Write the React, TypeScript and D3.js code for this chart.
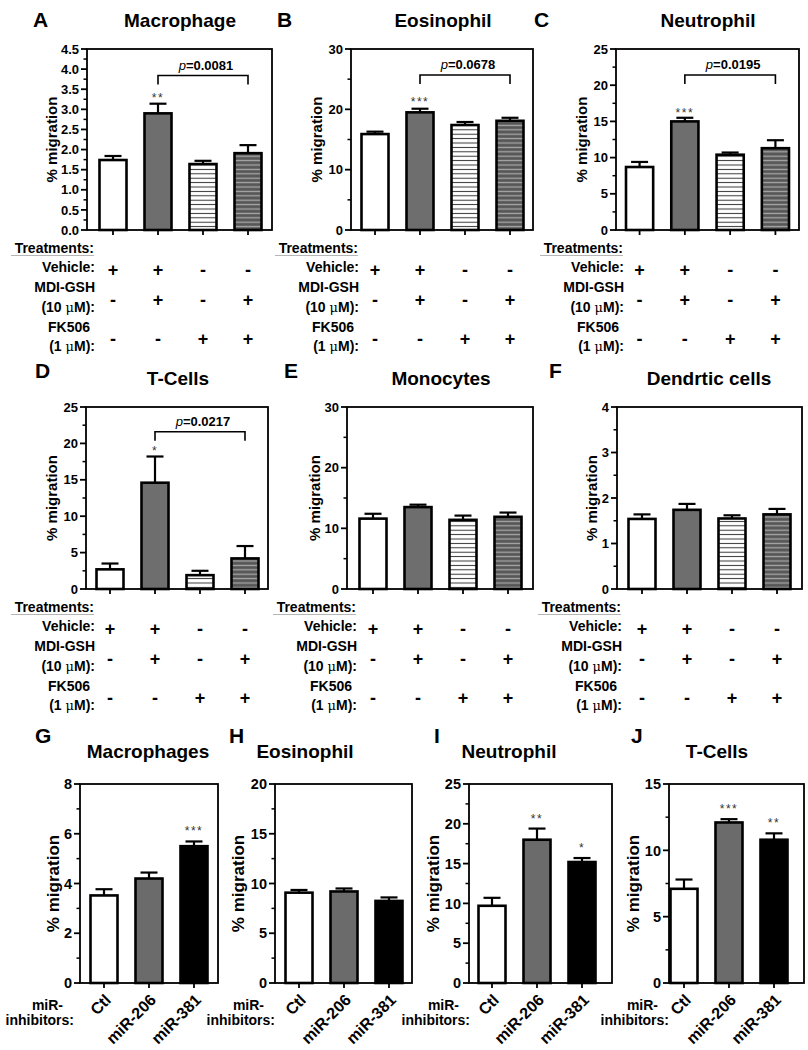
import React from 'react';
import * as d3 from 'd3';

const FONT = '"Liberation Sans", Arial, Helvetica, sans-serif';

// ---------- data ----------
const vehicleSigns = ['+', '+', '-', '-'];
const mdiSigns = ['-', '+', '-', '+'];
const fkSigns = ['-', '-', '+', '+'];
const mirCategories = ['Ctl', 'miR-206', 'miR-381'];

const macroTicks = [0, 0.5, 1, 1.5, 2, 2.5, 3, 3.5, 4, 4.5];
const eosTicks = [0, 10, 20, 30];
const neuTicks = [0, 5, 10, 15, 20, 25];
const tcellTicks = [0, 5, 10, 15, 20, 25];
const monoTicks = [0, 10, 20, 30];
const dcTicks = [0, 1, 2, 3, 4];
const mirMacroTicks = [0, 2, 4, 6, 8];
const mirEosTicks = [0, 5, 10, 15, 20];
const mirNeuTicks = [0, 5, 10, 15, 20, 25];
const mirTcellTicks = [0, 5, 10, 15];

const macroMeans = [1.74, 2.9, 1.64, 1.91];
const macroErr = [0.1, 0.24, 0.08, 0.2];
const eosMeans = [15.9, 19.5, 17.4, 18.1];
const eosErr = [0.4, 0.6, 0.5, 0.5];
const neuMeans = [8.7, 15.0, 10.4, 11.3];
const neuErr = [0.7, 0.5, 0.3, 1.1];
const tcellMeans = [2.7, 14.6, 1.9, 4.2];
const tcellErr = [0.8, 3.6, 0.6, 1.7];
const monoMeans = [11.6, 13.5, 11.4, 11.9];
const monoErr = [0.8, 0.4, 0.7, 0.7];
const dcMeans = [1.54, 1.74, 1.55, 1.64];
const dcErr = [0.1, 0.13, 0.07, 0.12];
const mirMacroMeans = [3.52, 4.2, 5.5];
const mirMacroErr = [0.25, 0.24, 0.19];
const mirEosMeans = [9.08, 9.2, 8.25];
const mirEosErr = [0.27, 0.3, 0.35];
const mirNeuMeans = [9.7, 18.0, 15.2];
const mirNeuErr = [1.0, 1.4, 0.5];
const mirTcellMeans = [7.1, 12.1, 10.8];
const mirTcellErr = [0.7, 0.25, 0.48];

const macroStars = ['', '**', '', ''];
const eosStars = ['', '***', '', ''];
const neuStars = ['', '***', '', ''];
const tcellStars = ['', '*', '', ''];
const noStars4 = ['', '', '', ''];
const mirMacroStars = ['', '', '***'];
const mirEosStars = ['', '', ''];
const mirNeuStars = ['', '**', '*'];
const mirTcellStars = ['', '***', '**'];

const pMacro = '0.0081';
const pEos = '0.0678';
const pNeu = '0.0195';
const pTcell = '0.0217';

// ---------- styles ----------
const treatFills = ['#ffffff', '#6e6e6e', 'url(#hatchLight)', 'url(#hatchDark)'];
const mirFills = ['#ffffff', '#6b6b6b', '#000000'];
const BW = 27;
const PAD = 0.4;

type P = {
  letter: string; title: string; kind: 'treat' | 'mir';
  means: number[]; errs: number[]; ticks: number[]; decimals: boolean;
  stars: string[]; fills: string[];
  bracket?: { value: number; p: string };
  x0: number; x1: number; c0: number; c1: number; yRange: [number, number];
  yLabelX: number; yLabelSize: number; tickSize: number; starGap: number;
  titleX: number; titleY: number; letterX: number; letterY: number;
  labelRight: number;
};

const R1: [number, number] = [230, 49];
const R2: [number, number] = [589, 407];
const R3: [number, number] = [983, 784];

const panels: P[] = [
  { letter: 'A', title: 'Macrophage', kind: 'treat', means: macroMeans, errs: macroErr, ticks: macroTicks, decimals: true,
    stars: macroStars, fills: treatFills, bracket: { value: 3.84, p: pMacro },
    x0: 87, x1: 272, c0: 113, c1: 248, yRange: R1, yLabelX: 52, yLabelSize: 15, tickSize: 13, starGap: 7.5,
    titleX: 180, titleY: 27, letterX: 33, letterY: 27, labelRight: 95 },
  { letter: 'B', title: 'Eosinophil', kind: 'treat', means: eosMeans, errs: eosErr, ticks: eosTicks, decimals: false,
    stars: eosStars, fills: treatFills, bracket: { value: 25.7, p: pEos },
    x0: 351, x1: 533, c0: 375, c1: 510, yRange: R1, yLabelX: 317, yLabelSize: 15, tickSize: 13, starGap: 8.5,
    titleX: 443, titleY: 27, letterX: 277, letterY: 27, labelRight: 359 },
  { letter: 'C', title: 'Neutrophil', kind: 'treat', means: neuMeans, errs: neuErr, ticks: neuTicks, decimals: false,
    stars: neuStars, fills: treatFills, bracket: { value: 21.4, p: pNeu },
    x0: 616, x1: 799, c0: 639.5, c1: 775.5, yRange: R1, yLabelX: 582, yLabelSize: 15, tickSize: 13, starGap: 7,
    titleX: 708, titleY: 27, letterX: 534, letterY: 27, labelRight: 624 },
  { letter: 'D', title: 'T-Cells', kind: 'treat', means: tcellMeans, errs: tcellErr, ticks: tcellTicks, decimals: false,
    stars: tcellStars, fills: treatFills, bracket: { value: 21.6, p: pTcell },
    x0: 86, x1: 268, c0: 110, c1: 245, yRange: R2, yLabelX: 52, yLabelSize: 15, tickSize: 13, starGap: 7.5,
    titleX: 178, titleY: 385, letterX: 35, letterY: 378, labelRight: 95 },
  { letter: 'E', title: 'Monocytes', kind: 'treat', means: monoMeans, errs: monoErr, ticks: monoTicks, decimals: false,
    stars: noStars4, fills: treatFills,
    x0: 347, x1: 533, c0: 373, c1: 508, yRange: R2, yLabelX: 315, yLabelSize: 15, tickSize: 13, starGap: 7.5,
    titleX: 441, titleY: 385, letterX: 284, letterY: 378, labelRight: 357 },
  { letter: 'F', title: 'Dendrtic cells', kind: 'treat', means: dcMeans, errs: dcErr, ticks: dcTicks, decimals: false,
    stars: noStars4, fills: treatFills,
    x0: 617, x1: 802, c0: 642, c1: 777, yRange: R2, yLabelX: 592, yLabelSize: 15, tickSize: 13, starGap: 7.5,
    titleX: 709, titleY: 385, letterX: 549, letterY: 378, labelRight: 622 },
  { letter: 'G', title: 'Macrophages', kind: 'mir', means: mirMacroMeans, errs: mirMacroErr, ticks: mirMacroTicks, decimals: false,
    stars: mirMacroStars, fills: mirFills,
    x0: 80, x1: 218, c0: 104, c1: 194, yRange: R3, yLabelX: 53, yLabelSize: 17, tickSize: 14.5, starGap: 12,
    titleX: 148, titleY: 758, letterX: 35, letterY: 743, labelRight: 74 },
  { letter: 'H', title: 'Eosinophil', kind: 'mir', means: mirEosMeans, errs: mirEosErr, ticks: mirEosTicks, decimals: false,
    stars: mirEosStars, fills: mirFills,
    x0: 275, x1: 412, c0: 299, c1: 389, yRange: R3, yLabelX: 238, yLabelSize: 17, tickSize: 14.5, starGap: 12,
    titleX: 305, titleY: 758, letterX: 229, letterY: 743, labelRight: 275 },
  { letter: 'I', title: 'Neutrophil', kind: 'mir', means: mirNeuMeans, errs: mirNeuErr, ticks: mirNeuTicks, decimals: false,
    stars: mirNeuStars, fills: mirFills,
    x0: 469, x1: 612, c0: 492, c1: 582, yRange: R3, yLabelX: 433, yLabelSize: 17, tickSize: 14.5, starGap: 12,
    titleX: 509, titleY: 758, letterX: 434, letterY: 743, labelRight: 470 },
  { letter: 'J', title: 'T-Cells', kind: 'mir', means: mirTcellMeans, errs: mirTcellErr, ticks: mirTcellTicks, decimals: false,
    stars: mirTcellStars, fills: mirFills,
    x0: 669, x1: 804, c0: 684, c1: 774, yRange: R3, yLabelX: 633, yLabelSize: 17, tickSize: 14.5, starGap: 12,
    titleX: 717, titleY: 758, letterX: 631, letterY: 743, labelRight: 669 },
];

function TreatTable({ p, xc }: { p: P; xc: (i: number) => number }) {
  const y0 = p.yRange[0];
  const R = p.labelRight;
  const signSize = 18;
  const rows = [
    { signs: vehicleSigns, cy: y0 + 40 },
    { signs: mdiSigns, cy: y0 + 70 },
    { signs: fkSigns, cy: y0 + 109 },
  ];
  const mu = (pre: string) => (
    <>{pre}<tspan fontWeight="normal" fontFamily='"DejaVu Serif", serif' fontSize={13}>μ</tspan>M):</>
  );
  return (
    <g fontWeight="bold" fontSize={14} fill="#000">
      <text x={R - 1} y={y0 + 23} textAnchor="end">Treatments:</text>
      <line x1={R - 84} x2={R - 1} y1={y0 + 25.5} y2={y0 + 25.5} stroke="#b5b5b5" strokeWidth={1.2} />
      <text x={R} y={y0 + 42} textAnchor="end">Vehicle:</text>
      <text x={R} y={y0 + 62} textAnchor="end">MDI-GSH</text>
      <text x={R} y={y0 + 82} textAnchor="end">{mu('(10 ')}</text>
      <text x={R - 26} y={y0 + 102} textAnchor="middle">FK506</text>
      <text x={R} y={y0 + 121} textAnchor="end">{mu('(1 ')}</text>
      {rows.map((r, ri) =>
        r.signs.map((s, i) => (
          <text key={`${ri}-${i}`} x={xc(i)} y={r.cy + 6} textAnchor="middle" fontSize={signSize}>{s}</text>
        ))
      )}
    </g>
  );
}

function Panel({ p }: { p: P }) {
  const n = p.means.length;
  const x = d3.scaleBand<number>().domain(d3.range(n)).range([p.c0 - BW / 2, p.c1 + BW / 2]).paddingInner(PAD).paddingOuter(0);
  const yMax = p.ticks[p.ticks.length - 1];
  const y = d3.scaleLinear().domain([0, yMax]).range(p.yRange);
  const fmt = p.decimals ? d3.format('.1f') : d3.format('d');
  const minor = p.ticks.slice(1).map((t, i) => (t + p.ticks[i]) / 2);
  const xc = (i: number) => (x(i) as number) + x.bandwidth() / 2;
  const [yb, yt] = p.yRange;
  const sw = 1.8;
  return (
    <g>
      <text x={p.letterX} y={p.letterY} fontSize={21} fontWeight="bold">{p.letter}</text>
      <text x={p.titleX} y={p.titleY} fontSize={19} fontWeight="bold" textAnchor="middle">{p.title}</text>
      <text transform={`translate(${p.yLabelX},${(yb + yt) / 2}) rotate(-90)`} textAnchor="middle" dy="0.35em"
        fontSize={p.yLabelSize} fontWeight="bold">% migration</text>
      {p.means.map((m, i) => {
        const x0 = x(i) as number;
        const cx = xc(i);
        const top = y(m);
        const et = y(m + p.errs[i]);
        return (
          <g key={i}>
            <line x1={cx} x2={cx} y1={top} y2={et} stroke="#000" strokeWidth={2.2} />
            <line x1={cx - 8.5} x2={cx + 8.5} y1={et} y2={et} stroke="#000" strokeWidth={2.2} />
            <rect x={x0} y={top} width={x.bandwidth()} height={yb - top} fill={p.fills[i]} stroke="#000" strokeWidth={2.6} />
            {p.stars[i] && (
              <text x={cx} y={et - p.starGap + 6} textAnchor="middle" fontSize={12} letterSpacing={1.5}
                fill="#333">{p.stars[i]}</text>
            )}
          </g>
        );
      })}
      <rect x={p.x0} y={yt} width={p.x1 - p.x0} height={yb - yt} fill="none" stroke="#000" strokeWidth={sw} />
      {p.ticks.map((t) => (
        <g key={`t${t}`}>
          <line x1={p.x0 - 6} x2={p.x0} y1={y(t)} y2={y(t)} stroke="#000" strokeWidth={sw} />
          <text x={p.x0 - 8} y={y(t)} dy="0.36em" textAnchor="end" fontSize={p.tickSize} fontWeight="bold">{fmt(t)}</text>
        </g>
      ))}
      {minor.map((t) => (
        <line key={`m${t}`} x1={p.x0 - 3.5} x2={p.x0} y1={y(t)} y2={y(t)} stroke="#000" strokeWidth={1.5} />
      ))}
      {p.means.map((_, i) => (
        <line key={`c${i}`} x1={xc(i)} x2={xc(i)} y1={yb} y2={yb + 5} stroke="#000" strokeWidth={sw} />
      ))}
      {p.bracket && (() => {
        const by = y(p.bracket.value);
        const xa = xc(1), xb = xc(3);
        return (
          <g>
            <path d={`M${xa},${by + 9}V${by}H${xb}V${by + 9}`} fill="none" stroke="#000" strokeWidth={1.6} />
            <text x={(xa + xb) / 2 + 3} y={by - 6} textAnchor="middle" fontSize={13} fontWeight="bold">
              <tspan fontStyle="italic" fontWeight="normal">p</tspan>={p.bracket.p}
            </text>
          </g>
        );
      })()}
      {p.kind === 'treat' ? (
        <TreatTable p={p} xc={xc} />
      ) : (
        <g fontWeight="bold" fill="#000">
          <text x={p.labelRight - 11} y={yb + 27} textAnchor="end" fontSize={14}>miR-</text>
          <text x={p.labelRight} y={yb + 42} textAnchor="end" fontSize={14}>inhibitors:</text>
          {mirCategories.map((c, i) => (
            <text key={c} transform={`translate(${xc(i) + 8},${yb + 18}) rotate(-45)`} textAnchor="end" fontSize={16}>{c}</text>
          ))}
        </g>
      )}
    </g>
  );
}

export default function App() {
  return (
    <svg width={808} height={1050} style={{ position: 'absolute', left: 0, top: 0, background: '#fff' }} fontFamily={FONT}>
      <defs>
        <pattern id="hatchLight" patternUnits="userSpaceOnUse" width={10} height={4.4}>
          <rect width={10} height={4.4} fill="#fff" />
          <line x1={0} x2={10} y1={2.2} y2={2.2} stroke="#333" strokeWidth={1} />
        </pattern>
        <pattern id="hatchDark" patternUnits="userSpaceOnUse" width={10} height={4.4}>
          <rect width={10} height={4.4} fill="#575757" />
          <line x1={0} x2={10} y1={2.2} y2={2.2} stroke="#a8a8a8" strokeWidth={1.3} />
        </pattern>
      </defs>
      <rect width={808} height={1050} fill="#fff" />
      {panels.map((p) => <Panel key={p.letter} p={p} />)}
    </svg>
  );
}
